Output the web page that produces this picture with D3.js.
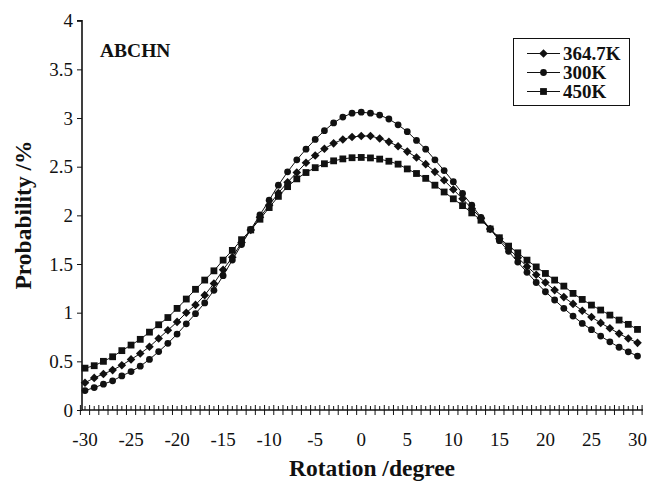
<!DOCTYPE html>
<html>
<head>
<meta charset="utf-8">
<script src="https://cdn.jsdelivr.net/npm/d3@7"></script>
<style>
  body { margin: 0; background: #fff; }
  svg { display: block; }
  text { font-family: "Liberation Serif", "Times New Roman", serif; fill: #111; }
</style>
</head>
<body>
<script>
const angles = d3.range(-30, 31)

const p300 = [
  0.20, 0.23, 0.265, 0.30, 0.35, 0.395, 0.45, 0.52, 0.60, 0.685,
  0.78, 0.885, 0.99, 1.10, 1.23, 1.38, 1.54, 1.70, 1.855, 2.005,
  2.156, 2.31, 2.447, 2.57, 2.68, 2.78, 2.87, 2.95, 3.01, 3.05,
  3.06,
  3.05, 3.03, 2.99, 2.93, 2.86, 2.77, 2.68, 2.57, 2.46, 2.345,
  2.225, 2.105, 1.98, 1.86, 1.74, 1.63, 1.52, 1.415, 1.31, 1.215,
  1.13, 1.045, 0.965, 0.89, 0.825, 0.76, 0.70, 0.645, 0.598, 0.554
]

const p364 = [
  0.28, 0.33, 0.37, 0.41, 0.46, 0.52, 0.58, 0.65, 0.735, 0.82,
  0.905, 1.00, 1.08, 1.18, 1.30, 1.44, 1.57, 1.72, 1.85, 1.98,
  2.105, 2.23, 2.34, 2.44, 2.54, 2.615, 2.685, 2.74, 2.78, 2.805,
  2.815,
  2.815, 2.79, 2.755, 2.71, 2.655, 2.595, 2.526, 2.447, 2.36, 2.266,
  2.17, 2.07, 1.97, 1.86, 1.76, 1.66, 1.565, 1.475, 1.39, 1.31,
  1.232, 1.16, 1.09, 1.02, 0.955, 0.895, 0.84, 0.785, 0.735, 0.69
]

const p450 = [
  0.43, 0.455, 0.50, 0.547, 0.61, 0.667, 0.726, 0.80, 0.876, 0.95,
  1.044, 1.14, 1.24, 1.335, 1.43, 1.54, 1.64, 1.75, 1.85, 1.96,
  2.08, 2.195, 2.295, 2.375, 2.44, 2.49, 2.53, 2.56, 2.58, 2.592,
  2.595,
  2.59, 2.578, 2.556, 2.526, 2.477, 2.43, 2.38, 2.31, 2.24, 2.17,
  2.10, 2.025, 1.95, 1.86, 1.77, 1.684, 1.615, 1.54, 1.47, 1.403,
  1.335, 1.273, 1.198, 1.136, 1.078, 1.027, 0.975, 0.924, 0.88, 0.828
]

const seriesNames = ['364.7K', '300K', '450K']
const seriesValues = [p364, p300, p450]
const seriesMarks = ['diamond', 'circle', 'square']

const yTicks = [0, 0.5, 1, 1.5, 2, 2.5, 3, 3.5, 4]
const xLabelTicks = [-30, -25, -20, -15, -10, -5, 0, 5, 10, 15, 20, 25, 30]

const W = 652, H = 481
const plotL = 82, plotR = 643, plotT = 20.7, plotB = 410

const svg = d3.select('body').append('svg')
  .attr('width', W).attr('height', H)

const x = d3.scaleLinear().domain([-30, 30]).range([85, 637.5])
const y = d3.scaleLinear().domain([0, 4]).range([plotB, plotT])

// y axis
const yAxis = svg.append('g')
  .attr('transform', `translate(${plotL},0)`)
  .call(d3.axisLeft(y).tickValues(yTicks).tickSize(5).tickPadding(4)
    .tickFormat(d => d))
yAxis.select('.domain').attr('stroke', '#111').attr('stroke-width', 1.6)
  .attr('d', `M-5,${y(4)}H0V${plotB}`)
yAxis.selectAll('.tick line').attr('stroke', '#111')
yAxis.selectAll('.tick text')
  .style('font-size', '19px').attr('fill', '#111')

// x axis line
svg.append('line')
  .attr('x1', plotL).attr('x2', plotR)
  .attr('y1', plotB).attr('y2', plotB)
  .attr('stroke', '#111').attr('stroke-width', 1.6)

// ticks on x axis
const halfTicks = d3.range(-30.5, 31, 1)
svg.append('g').selectAll('line')
  .data(halfTicks)
  .join('line')
  .attr('x1', d => x(d)).attr('x2', d => x(d))
  .attr('y1', plotB - 5).attr('y2', plotB + 5)
  .attr('stroke', '#111').attr('stroke-width', 1)
svg.append('g').selectAll('line')
  .data(angles)
  .join('line')
  .attr('x1', d => x(d)).attr('x2', d => x(d))
  .attr('y1', plotB - 4).attr('y2', plotB)
  .attr('stroke', '#111').attr('stroke-width', 1)

svg.append('g').selectAll('text')
  .data(xLabelTicks)
  .join('text')
  .attr('x', d => x(d))
  .attr('y', plotB + 36)
  .attr('text-anchor', 'middle')
  .style('font-size', '19px')
  .text(d => d)

// titles
svg.append('text')
  .attr('x', 372).attr('y', 476)
  .attr('text-anchor', 'middle')
  .style('font-size', '23.5px').style('font-weight', 'bold')
  .text('Rotation /degree')

svg.append('text')
  .attr('transform', 'translate(31,215) rotate(-90)')
  .attr('text-anchor', 'middle')
  .style('font-size', '23.5px').style('font-weight', 'bold')
  .text('Probability /%')

svg.append('text')
  .attr('x', 100).attr('y', 57)
  .style('font-size', '19.5px').style('font-weight', 'bold')
  .text('ABCHN')

// series
const line = d3.line().x((d, i) => x(angles[i])).y(d => y(d))

function drawMark (g, kind, cx, cy) {
  if (kind === 'circle') {
    g.append('circle').attr('cx', cx).attr('cy', cy).attr('r', 3.4).attr('fill', '#111')
  } else if (kind === 'square') {
    g.append('rect').attr('x', cx - 3.4).attr('y', cy - 3.4)
      .attr('width', 6.8).attr('height', 6.8).attr('fill', '#111')
  } else {
    g.append('path')
      .attr('d', `M${cx},${cy - 4.3}L${cx + 4.3},${cy}L${cx},${cy + 4.3}L${cx - 4.3},${cy}Z`)
      .attr('fill', '#111')
  }
}

seriesValues.forEach((vals, si) => {
  const g = svg.append('g')
  g.append('path').datum(vals)
    .attr('d', line)
    .attr('fill', 'none').attr('stroke', '#111').attr('stroke-width', 1)
  vals.forEach((v, i) => drawMark(g, seriesMarks[si], x(angles[i]), y(v)))
})

// legend
const lg = svg.append('g')
lg.append('rect')
  .attr('x', 513.5).attr('y', 38.5).attr('width', 116).attr('height', 67)
  .attr('fill', '#fff').attr('stroke', '#111').attr('stroke-width', 1)
seriesNames.forEach((name, i) => {
  const cy = 53.5 + i * 19
  lg.append('line').attr('x1', 527).attr('x2', 560)
    .attr('y1', cy).attr('y2', cy).attr('stroke', '#111').attr('stroke-width', 1)
  drawMark(lg, seriesMarks[i], 543.5, cy)
  lg.append('text').attr('x', 563).attr('y', cy + 6.5)
    .style('font-size', '19px').style('font-weight', 'bold')
    .text(name)
})
</script>
</body>
</html>
